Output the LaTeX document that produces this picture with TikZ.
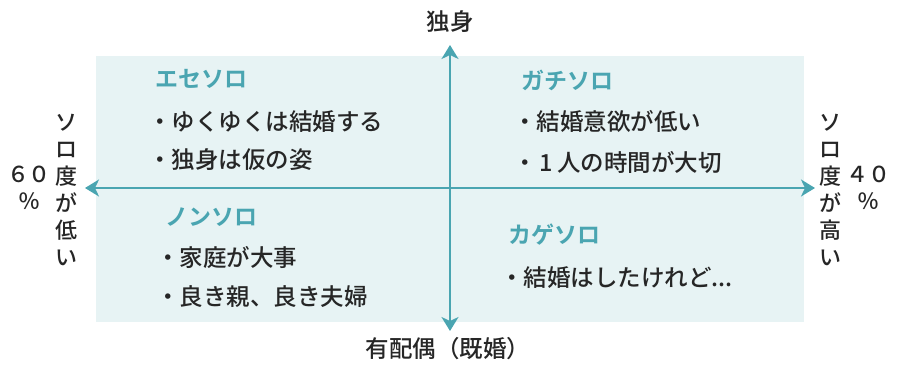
\documentclass[tikz,border=0pt]{standalone}
\usepackage{fontspec}
\newfontfamily\cjk{Noto Sans CJK JP Medium}
\newfontfamily\cjkb{Noto Sans CJK JP Bold}
\usetikzlibrary{arrows.meta}
\definecolor{bgteal}{HTML}{E7F3F4}
\definecolor{axteal}{HTML}{4AA5B1}
\definecolor{ink}{HTML}{262626}
\tikzset{
  txt/.style={inner sep=0pt, text=ink, font=\cjk\fontsize{23.5}{27}\selectfont},
  ttl/.style={inner sep=0pt, text=axteal, font=\cjkb\fontsize{23}{27}\selectfont, anchor=west},
  item/.style={txt, anchor=west},
  vcol/.style={txt, align=center, font=\cjk\fontsize{22}{27}\selectfont},
  pct/.style={txt, align=center, font=\cjk\fontsize{22}{27}\selectfont},
  axis/.style={draw=axteal, line width=2pt, {Stealth[length=14pt,width=17pt,inset=4pt]}-{Stealth[length=14pt,width=17pt,inset=4pt]}}
}
\begin{document}
\begin{tikzpicture}[x=1pt,y=-1pt]
\useasboundingbox (0,0) rectangle (898,365);
\fill[bgteal] (96,56) rectangle (804,322);
% axes
\coordinate (vtop) at (450,45);
\coordinate (vbot) at (450,331);
\coordinate (hleft) at (85,188);
\coordinate (hright) at (815,188);
\draw[axis] (vbot) -- (vtop);
\draw[axis] (hleft) -- (hright);
% axis labels
\node[txt] (single) at (450,22) {独身};
\node[txt] (married) at (448,349) {有配偶（既婚）};
\node[vcol] (lowcol) at (67,190) {ソ\\ロ\\度\\が\\低\\い};
\node[pct] (lowpct) at (29,188) {６０\\％};
\node[vcol] (highcol) at (830,190) {ソ\\ロ\\度\\が\\高\\い};
\node[pct] (highpct) at (868,188) {４０\\％};
% top-left
\node[ttl] (ese) at (155,79) {エセソロ};
\node[item] (ese1) at (148,122) {・ゆくゆくは結婚する};
\node[item] (ese2) at (148,160) {・独身は仮の姿};
% top-right
\node[ttl] (gachi) at (521,80) {ガチソロ};
\node[item] (gachi1) at (513,121) {・結婚意欲が低い};
\node[item] (gachi2) at (513,162) {・\kern3pt 1\kern4pt 人の時間が大切};
% bottom-left
\node[ttl] (non) at (165,217) {ノンソロ};
\node[item] (non1) at (156,257) {・家庭が大事};
\node[item] (non2) at (156,297) {・良き親、良き夫婦};
% bottom-right
\node[ttl] (kage) at (508,235) {カゲソロ};
\node[item] (kage1) at (500,278) {・結婚はしたけれど...};
\end{tikzpicture}
\end{document}
